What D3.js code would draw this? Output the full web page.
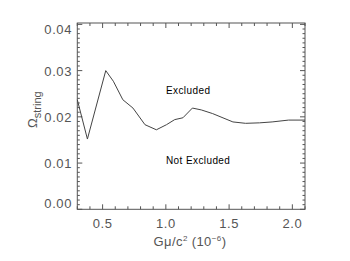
<!DOCTYPE html>
<html>
<head>
<meta charset="utf-8">
<script src="https://cdn.jsdelivr.net/npm/d3@7"></script>
<style>
  body { margin: 0; background: #fff; }
  svg { display: block; }
  text { font-family: "Liberation Sans", Arial, sans-serif; }
</style>
</head>
<body>
<svg id="chart" width="350" height="261"></svg>
<script>
// Gmu/c^2 (1e-6) against Omega_string
const gmu = [0.30, 0.38, 0.525, 0.585, 0.66, 0.74, 0.835, 0.925, 1.005, 1.07, 1.135, 1.21, 1.28, 1.37, 1.53, 1.63, 1.74, 1.84, 1.97, 2.10];
const omega = [0.0237, 0.0152, 0.0300, 0.0277, 0.0237, 0.0219, 0.0183, 0.0172, 0.0183, 0.0194, 0.0198, 0.0219, 0.0215, 0.0207, 0.0189, 0.0186, 0.0187, 0.0189, 0.0193, 0.0193];
const xTicks = [0.5, 1.0, 1.5, 2.0];
const yTicks = [0.00, 0.01, 0.02, 0.03, 0.04];
const regionLabels = ["Excluded", "Not Excluded"];
const regionValues = [0.0250, 0.0099];

const svg = d3.select("#chart");
const frame = { left: 77.3, right: 305, top: 23, bottom: 209.3 };
const axisCol = "#555";

const x = d3.scaleLinear().domain([0.3, 2.1]).range([frame.left, frame.right]);
const y = d3.scaleLinear().domain([0, 0.0403]).range([frame.bottom, frame.top]);

// box
svg.append("rect")
    .attr("x", frame.left).attr("y", frame.top)
    .attr("width", frame.right - frame.left).attr("height", frame.bottom - frame.top)
    .attr("fill", "none").attr("stroke", axisCol).attr("stroke-width", 1);

// tick marks on all four sides
const xMinor = d3.range(3, 22).map(d => d / 10);
const yMinor = d3.range(0, 41).map(d => d / 1000);

function tickLen(v, majors, big, small) {
    return majors.some(m => Math.abs(m - v) < 1e-9) ? big : small;
}

const ticks = svg.append("g").attr("stroke", axisCol).attr("stroke-width", 1);
xMinor.forEach(v => {
    let len = tickLen(v, xTicks, 5, 3);
    ticks.append("line").attr("x1", x(v)).attr("x2", x(v)).attr("y1", frame.bottom).attr("y2", frame.bottom - len);
    ticks.append("line").attr("x1", x(v)).attr("x2", x(v)).attr("y1", frame.top).attr("y2", frame.top + len);
});
yMinor.forEach(v => {
    let len = tickLen(v, yTicks, 5, 2.5);
    ticks.append("line").attr("x1", frame.left).attr("x2", frame.left + len).attr("y1", y(v)).attr("y2", y(v));
    ticks.append("line").attr("x1", frame.right).attr("x2", frame.right - len).attr("y1", y(v)).attr("y2", y(v));
});

// tick labels
svg.append("g").selectAll("text")
    .data(xTicks)
    .join("text")
    .attr("x", d => x(d))
    .attr("y", 228)
    .attr("text-anchor", "middle")
    .attr("font-size", 13)
    .attr("letter-spacing", 0.6)
    .attr("fill", axisCol)
    .text(d => d3.format(".1f")(d));

// end labels are pulled inside the frame, as in the original
svg.append("g").selectAll("text")
    .data(yTicks)
    .join("text")
    .attr("x", 72)
    .attr("y", d => Math.min(Math.max(y(d), frame.top + 6), frame.bottom - 6) + 5)
    .attr("text-anchor", "end")
    .attr("font-size", 13)
    .attr("letter-spacing", 0.6)
    .attr("fill", axisCol)
    .text(d => d3.format(".2f")(d));

// axis titles
const xt = svg.append("text")
    .attr("x", 190).attr("y", 246)
    .attr("text-anchor", "middle")
    .attr("font-size", 13)
    .attr("letter-spacing", 0.4)
    .attr("fill", axisCol);
xt.append("tspan").text("Gμ/c");
xt.append("tspan").attr("font-size", 8).attr("dy", -5).text("2");
xt.append("tspan").attr("dy", 5).text("  (10");
xt.append("tspan").attr("font-size", 8).attr("dy", -5).text("−6");
xt.append("tspan").attr("dy", 5).text(")");

const yt = svg.append("text")
    .attr("transform", "translate(37,128) rotate(-90)")
    .attr("font-size", 13)
    .attr("fill", axisCol);
yt.append("tspan").text("Ω");
yt.append("tspan").attr("font-size", 11).attr("dy", 4).text("string");

// data line
const line = d3.line()
    .x((d, i) => x(gmu[i]))
    .y(d => y(d));

svg.append("path")
    .datum(omega)
    .attr("d", line)
    .attr("fill", "none")
    .attr("stroke", "#444")
    .attr("stroke-width", 1);

// region labels
svg.append("g").selectAll("text")
    .data(regionLabels)
    .join("text")
    .attr("x", 166)
    .attr("y", (d, i) => y(regionValues[i]))
    .attr("font-size", 10)
    .attr("letter-spacing", 0.4)
    .attr("fill", "#000")
    .text(d => d);
</script>
</body>
</html>
